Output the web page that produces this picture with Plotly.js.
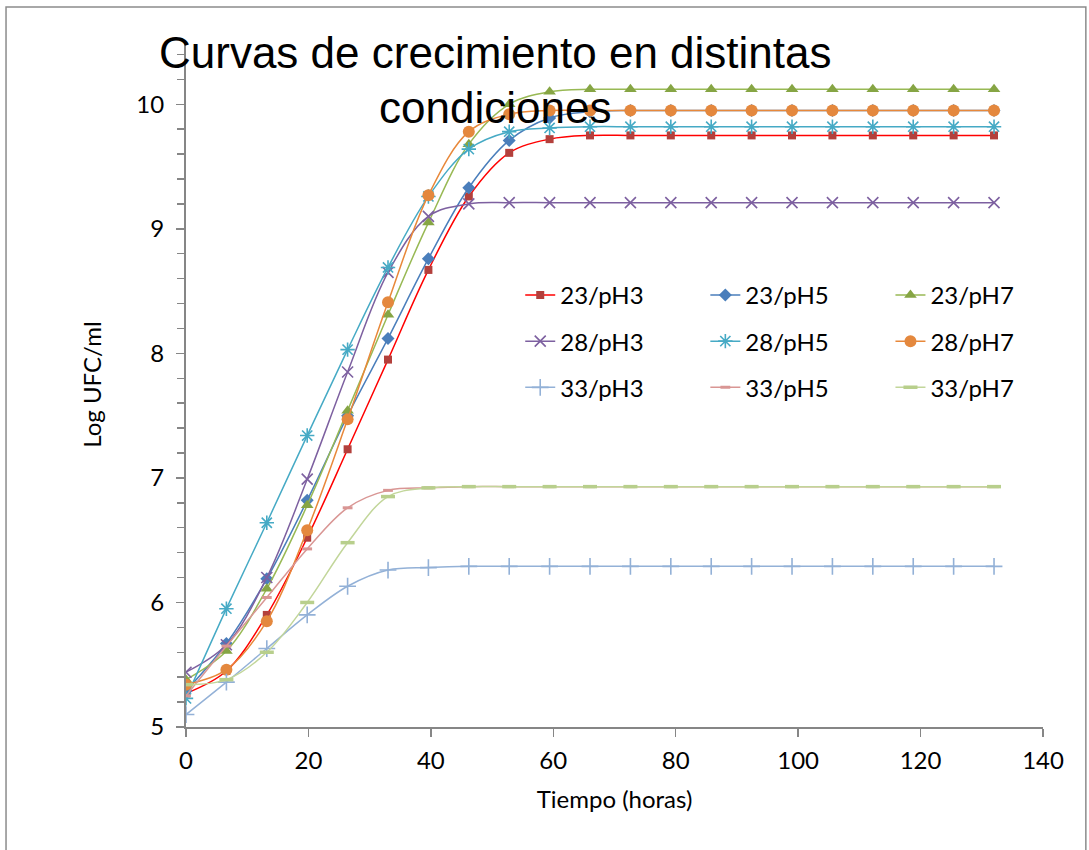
<!DOCTYPE html>
<html>
<head>
<meta charset="utf-8">
<script src="https://cdn.plot.ly/plotly-3.0.1.min.js"></script>
<style>
  html, body { margin: 0; padding: 0; background: #ffffff; }
  #chart { width: 1089px; height: 850px; }
</style>
</head>
<body>
<div id="chart"></div>
<script>
// Sampling times (hours)
const tiempo = [0, 6.6, 13.2, 19.8, 26.4, 33, 39.6, 46.2, 52.8, 59.4, 66, 72.6, 79.2, 85.8, 92.4, 99, 105.6, 112.2, 118.8, 125.4, 132];

// Log UFC/ml for each temperature / pH condition
const t23pH3 = [5.27, 5.45, 5.90, 6.52, 7.23, 7.95, 8.67, 9.26, 9.61, 9.72, 9.75, 9.75, 9.75, 9.75, 9.75, 9.75, 9.75, 9.75, 9.75, 9.75, 9.75];
const t23pH5 = [5.29, 5.67, 6.19, 6.82, 7.50, 8.12, 8.76, 9.33, 9.71, 9.89, 9.94, 9.95, 9.95, 9.95, 9.95, 9.95, 9.95, 9.95, 9.95, 9.95, 9.95];
const t23pH7 = [5.38, 5.61, 6.11, 6.78, 7.54, 8.31, 9.05, 9.68, 10.00, 10.10, 10.12, 10.12, 10.12, 10.12, 10.12, 10.12, 10.12, 10.12, 10.12, 10.12, 10.12];
const t28pH3 = [5.44, 5.66, 6.20, 6.99, 7.85, 8.65, 9.10, 9.20, 9.21, 9.21, 9.21, 9.21, 9.21, 9.21, 9.21, 9.21, 9.21, 9.21, 9.21, 9.21, 9.21];
const t28pH5 = [5.23, 5.95, 6.64, 7.34, 8.03, 8.69, 9.26, 9.64, 9.78, 9.81, 9.82, 9.82, 9.82, 9.82, 9.82, 9.82, 9.82, 9.82, 9.82, 9.82, 9.82];
const t28pH7 = [5.34, 5.46, 5.85, 6.58, 7.47, 8.41, 9.27, 9.78, 9.92, 9.95, 9.95, 9.95, 9.95, 9.95, 9.95, 9.95, 9.95, 9.95, 9.95, 9.95, 9.95];
const t33pH3 = [5.10, 5.36, 5.63, 5.90, 6.13, 6.26, 6.28, 6.29, 6.29, 6.29, 6.29, 6.29, 6.29, 6.29, 6.29, 6.29, 6.29, 6.29, 6.29, 6.29, 6.29];
const t33pH5 = [5.25, 5.65, 6.04, 6.43, 6.76, 6.90, 6.92, 6.93, 6.93, 6.93, 6.93, 6.93, 6.93, 6.93, 6.93, 6.93, 6.93, 6.93, 6.93, 6.93, 6.93];
const t33pH7 = [5.34, 5.38, 5.60, 6.00, 6.48, 6.85, 6.92, 6.93, 6.93, 6.93, 6.93, 6.93, 6.93, 6.93, 6.93, 6.93, 6.93, 6.93, 6.93, 6.93, 6.93];

const nombres = ['23/pH3', '23/pH5', '23/pH7', '28/pH3', '28/pH5', '28/pH7', '33/pH3', '33/pH5', '33/pH7'];
const series = [t23pH3, t23pH5, t23pH7, t28pH3, t28pH5, t28pH7, t33pH3, t33pH5, t33pH7];

// Per-series look: line colour, marker symbol/colour/size, legend column
const estilos = [
  { line: '#FF0000', mk: '#B3403C', sym: 'square',          size: 8,  lw: 0,   legend: 'legend'  },
  { line: '#4A7EBB', mk: '#4A7EBB', sym: 'diamond',         size: 10, lw: 0,   legend: 'legend2' },
  { line: '#98B954', mk: '#86A544', sym: 'triangle-up',     size: 11, lw: 0,   legend: 'legend3' },
  { line: '#7D60A0', mk: '#7D60A0', sym: 'x-thin-open',     size: 11, lw: 1.6, legend: 'legend'  },
  { line: '#46AAC5', mk: '#46AAC5', sym: 'asterisk-open',   size: 12, lw: 1.6, legend: 'legend2' },
  { line: '#E8883A', mk: '#E4883E', sym: 'circle',          size: 12, lw: 0,   legend: 'legend3' },
  { line: '#93B1D7', mk: '#93B1D7', sym: 'cross-thin-open', size: 12, lw: 1.6, legend: 'legend'  },
  { line: '#D99694', mk: '#D99694', sym: 'line-ew-open',    size: 7,  lw: 3,   legend: 'legend2' },
  { line: '#C2D69A', mk: '#B8CF8C', sym: 'line-ew-open',    size: 10, lw: 3.5, legend: 'legend3' }
];

const traces = series.map((vals, i) => {
  const s = estilos[i];
  return {
    type: 'scatter',
    mode: 'lines+markers',
    name: nombres[i],
    x: tiempo,
    y: vals,
    legend: s.legend,
    legendgroup: nombres[i],
    line: { color: s.line, width: 1.5, shape: 'spline', smoothing: 1 },
    marker: {
      symbol: s.sym,
      size: s.size,
      color: s.mk,
      line: { color: s.mk, width: s.lw }
    },
    hoverinfo: 'x+y+name'
  };
});

const fuente = 'Lato, "Open Sans", sans-serif';
const fuenteTitulo = '"Liberation Sans", Arial, sans-serif';
const gris = '#868686';

const legendaBase = {
  orientation: 'v',
  yanchor: 'top',
  xanchor: 'left',
  y: 0.663,
  bgcolor: 'rgba(0,0,0,0)',
  borderwidth: 0,
  font: { family: fuente, size: 24, color: '#000000' },
  tracegroupgap: 12,
  itemwidth: 30
};

const layout = {
  width: 1089,
  height: 850,
  margin: { l: 186, r: 46, t: 42, b: 123 },
  paper_bgcolor: '#ffffff',
  plot_bgcolor: '#ffffff',
  font: { family: fuente, size: 24, color: '#000000' },
  xaxis: {
    range: [0, 140],
    tick0: 0,
    dtick: 20,
    ticks: 'outside',
    ticklen: 8,
    tickwidth: 1.5,
    tickcolor: gris,
    ticklabelstandoff: 3,
    showline: true,
    linecolor: gris,
    linewidth: 2,
    showgrid: false,
    zeroline: false,
    tickfont: { family: fuente, size: 24, color: '#000000' },
    title: { text: 'Tiempo (horas)', font: { family: fuente, size: 24, color: '#000000' }, standoff: 18 }
  },
  yaxis: {
    range: [5, 10.5],
    tick0: 5,
    dtick: 1,
    ticks: 'outside',
    ticklen: 8,
    tickwidth: 1.5,
    tickcolor: gris,
    ticklabelstandoff: 7,
    showline: true,
    linecolor: gris,
    linewidth: 2,
    showgrid: false,
    zeroline: false,
    minor: { dtick: 0.2, ticks: 'outside', ticklen: 7, tickwidth: 1.5, tickcolor: gris, showgrid: false },
    tickfont: { family: fuente, size: 24, color: '#000000' },
    title: { text: 'Log UFC/ml', font: { family: fuente, size: 24, color: '#000000' }, standoff: 28 }
  },
  legend:  Object.assign({}, legendaBase, { x: 0.39 }),
  legend2: Object.assign({}, legendaBase, { x: 0.606 }),
  legend3: Object.assign({}, legendaBase, { x: 0.822 }),
  annotations: [
    {
      text: 'Curvas de crecimiento en distintas',
      xref: 'paper', yref: 'paper', x: 0.361, y: 0.985,
      xanchor: 'center', yanchor: 'middle', showarrow: false,
      font: { family: fuenteTitulo, size: 44, color: '#000000' }
    },
    {
      text: 'condiciones',
      xref: 'paper', yref: 'paper', x: 0.361, y: 0.904,
      xanchor: 'center', yanchor: 'middle', showarrow: false,
      font: { family: fuenteTitulo, size: 44, color: '#000000' }
    }
  ],
  shapes: [
    {
      type: 'rect', xref: 'paper', yref: 'paper',
      x0: -0.21, x1: 1.05, y0: -0.2, y1: 1.051,
      line: { color: '#8C8C8C', width: 1.5 },
      fillcolor: 'rgba(0,0,0,0)',
      layer: 'below'
    }
  ]
};

Plotly.newPlot('chart', traces, layout, { displayModeBar: false, staticPlot: true });
</script>
</body>
</html>
